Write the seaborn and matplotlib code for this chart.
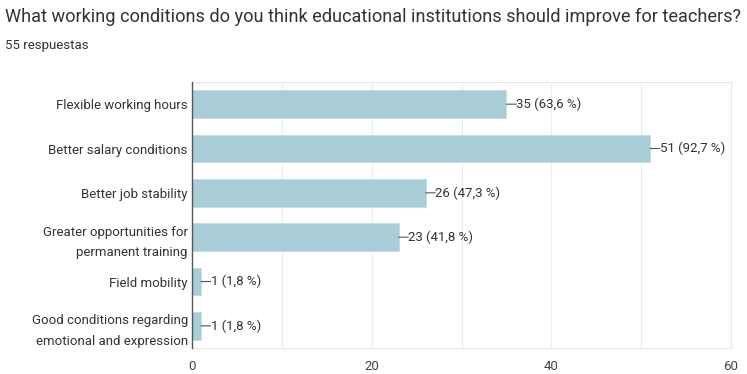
import matplotlib
matplotlib.use("Agg")
import matplotlib.pyplot as plt
import seaborn as sns
import pandas as pd

categories = [
    "Flexible working hours",
    "Better salary conditions",
    "Better job stability",
    "Greater opportunities for\npermanent training",
    "Field mobility",
    "Good conditions regarding\nemotional and expression",
]
counts = [35, 51, 26, 23, 1, 1]
percents = ["63,6", "92,7", "47,3", "41,8", "1,8", "1,8"]
x_ticks = [0, 20, 40, 60]
title = "What working conditions do you think educational institutions should improve for teachers?"
subtitle = "55 respuestas"

sns.set_theme(style="white")
plt.rcParams["font.family"] = ["Roboto", "DejaVu Sans"]

df = pd.DataFrame({"cat": categories, "n": counts})

fig = plt.figure(figsize=(7.47, 3.74), dpi=100)
ax = fig.add_axes([192 / 747, 1 - 348 / 374, (731 - 192) / 747, (348 - 82) / 374])

sns.barplot(data=df, y="cat", x="n", color="#a8cdd7", saturation=1, width=0.62,
            edgecolor="#c2dde5", linewidth=0.6, ax=ax, zorder=3)

ax.set_xlim(0, 60)
ax.set_ylim(len(categories) - 0.5, -0.5)
ax.set_xticks(x_ticks)
ax.set_xticks([10, 30, 50], minor=True)
ax.grid(axis="x", which="both", color="#ececec", linewidth=0.8, zorder=0)
ax.set_xlabel("")
ax.set_ylabel("")
ax.tick_params(axis="x", which="both", length=0, labelsize=9.5, labelcolor="#444444", pad=9)
ax.tick_params(axis="y", length=0, labelsize=9.5, labelcolor="#333333", pad=3)
for lbl in ax.get_yticklabels():
    lbl.set_linespacing(1.75)

for s in ["top", "right", "bottom"]:
    ax.spines[s].set_color("#e6e6e6")
    ax.spines[s].set_linewidth(0.8)
ax.spines["left"].set_color("#555555")
ax.spines["left"].set_linewidth(1.0)
ax.spines["left"].set_zorder(4)

for i, (n, p) in enumerate(zip(counts, percents)):
    ax.annotate(f"{n} ({p} %)", xy=(n, i), xytext=(7, 0), textcoords="offset points",
                va="center", ha="left", fontsize=9.5, color="#333333",
                arrowprops=dict(arrowstyle="-", color="#555555", lw=0.8,
                                shrinkA=0, shrinkB=0, patchA=None, relpos=(0, 0.5)))

fig.text(5 / 747, 1 - 17 / 374, title, fontsize=13.1, color="#333333", va="center", ha="left")
fig.text(5 / 747, 1 - 45 / 374, subtitle, fontsize=9.5, color="#333333", va="center", ha="left")

fig.savefig("out.png", dpi=100)
